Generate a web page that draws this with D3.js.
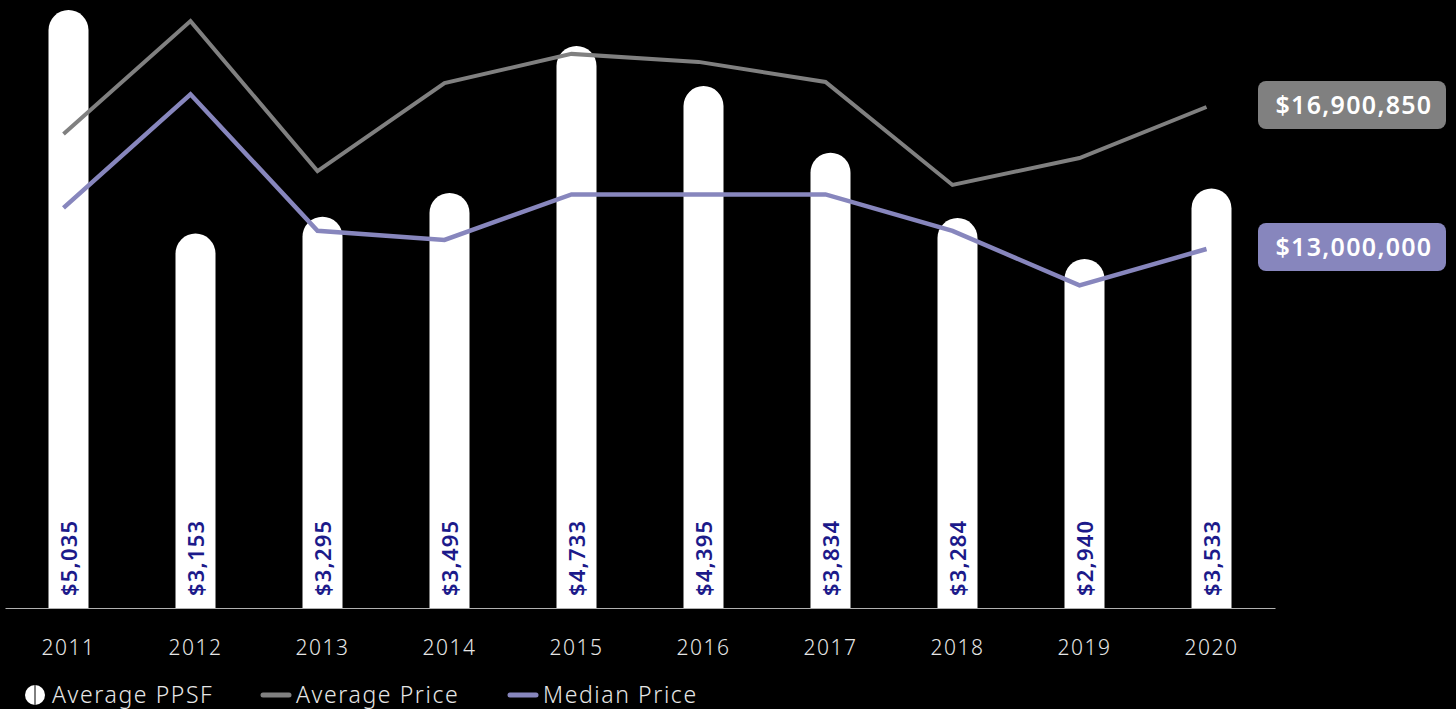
<!DOCTYPE html>
<html>
<head>
<meta charset="utf-8">
<script src="https://cdn.jsdelivr.net/npm/d3@7/dist/d3.min.js"></script>
<style>
  body { margin: 0; background: #000; }
  svg { display: block; font-family: "Noto Sans", sans-serif; }
</style>
</head>
<body>
<div id="chart"></div>
<script>
const years = ["2011", "2012", "2013", "2014", "2015", "2016", "2017", "2018", "2019", "2020"];
const avgPpsf = [5035, 3153, 3295, 3495, 4733, 4395, 3834, 3284, 2940, 3533];
const avgPrice = [16160000, 19260000, 15140000, 17560000, 18360000, 18140000, 17590000, 14760000, 15500000, 16900850];
const medianPrice = [14130000, 17250000, 13500000, 13250000, 14500000, 14500000, 14500000, 13500000, 12000000, 13000000];
const legendLabels = ["Average PPSF", "Average Price", "Median Price"];

const w = 1456, h = 709;
const gray = "#808080", purple = "#8786bd", navy = "#1c1a8a";

const svg = d3.select("#chart").append("svg")
  .attr("width", w)
  .attr("height", h)
  .style("background", "#000");

// scales
const x = d3.scaleBand()
  .domain(years)
  .range([5, 1275])
  .paddingInner(0.685)
  .paddingOuter(0.3425);
const yBar = d3.scaleLinear()
  .domain([0, 5120])
  .range([608, 0]);
const yPrice = d3.scaleLinear()
  .domain([3140000, 19840000])
  .range([608, 0]);

const cx = d => x(d) + x.bandwidth() / 2;
const bw = x.bandwidth();

// bars with rounded top
svg.selectAll(".bar")
  .data(avgPpsf)
  .join("path")
    .attr("class", "bar")
    .attr("fill", "#fff")
    .attr("d", (v, i) => {
      const x0 = x(years[i]), x1 = x0 + bw, r = bw / 2;
      const top = yBar(v), bottom = yBar(0);
      return `M${x0},${bottom} L${x0},${top + r} A${r},${r} 0 0 1 ${x1},${top + r} L${x1},${bottom} Z`;
    });

// bar labels (rotated)
svg.selectAll(".bar-label")
  .data(avgPpsf)
  .join("text")
    .attr("class", "bar-label")
    .attr("transform", (v, i) => `translate(${cx(years[i]) + 8}, 596) rotate(-90)`)
    .attr("fill", navy)
    .style("font-size", "22px")
    .style("font-weight", 600)
    .style("letter-spacing", "1.2px")
    .text(v => "$" + d3.format(",")(v));

// x axis
const xAxis = d3.axisBottom(x).tickSize(0).tickPadding(32);
const gx = svg.append("g")
  .attr("transform", "translate(0,608)")
  .call(xAxis);
gx.select(".domain").attr("stroke", "#b0b0b0").attr("stroke-width", 1.2);
gx.selectAll("text")
  .attr("fill", "#e6e6e6")
  .style("font-size", "21px")
  .style("letter-spacing", "1.5px")
  .style("font-family", "'Noto Sans', sans-serif")
  .style("font-weight", 300);

// lines
const lineX = (d, i) => cx(years[i]) - 5;
const priceLine = d3.line().x(lineX).y(d => yPrice(d));

svg.append("path")
  .datum(avgPrice)
  .attr("fill", "none")
  .attr("stroke", gray)
  .attr("stroke-width", 4)
  .attr("d", priceLine);

svg.append("path")
  .datum(medianPrice)
  .attr("fill", "none")
  .attr("stroke", purple)
  .attr("stroke-width", 4.5)
  .attr("d", priceLine);

// end labels
const endLabels = [
  { value: avgPrice[avgPrice.length - 1], color: gray },
  { value: medianPrice[medianPrice.length - 1], color: purple }
];
const lbl = svg.selectAll(".end-label")
  .data(endLabels)
  .join("g")
    .attr("class", "end-label")
    .attr("transform", d => `translate(1258, ${yPrice(d.value) - 26})`);
lbl.append("rect")
  .attr("width", 188)
  .attr("height", 48)
  .attr("rx", 8)
  .attr("fill", d => d.color);
lbl.append("text")
  .attr("x", 96)
  .attr("y", 33)
  .attr("text-anchor", "middle")
  .attr("fill", "#fff")
  .style("font-size", "25px")
  .style("font-weight", 600)
  .style("letter-spacing", "1.3px")
  .text(d => "$" + d3.format(",")(d.value));

// legend
const legend = svg.append("g").attr("transform", "translate(0,695)");
legend.append("circle").attr("cx", 35).attr("cy", 0).attr("r", 10).attr("fill", "#fff");
legend.append("line").attr("x1", 35).attr("x2", 35).attr("y1", -10).attr("y2", 10)
  .attr("stroke", "#000").attr("stroke-width", 1);
legend.append("line").attr("x1", 263).attr("x2", 289).attr("y1", 0).attr("y2", 0)
  .attr("stroke", gray).attr("stroke-width", 5).attr("stroke-linecap", "round");
legend.append("line").attr("x1", 510).attr("x2", 536).attr("y1", 0).attr("y2", 0)
  .attr("stroke", purple).attr("stroke-width", 5).attr("stroke-linecap", "round");
legend.selectAll(".leg-text")
  .data(legendLabels)
  .join("text")
    .attr("class", "leg-text")
    .attr("x", (d, i) => [52, 296, 543][i])
    .attr("y", 8)
    .attr("fill", "#e6e6e6")
    .style("font-size", "23px")
    .style("letter-spacing", "1.6px")
    .style("font-weight", 300)
    .text(d => d);
</script>
</body>
</html>
